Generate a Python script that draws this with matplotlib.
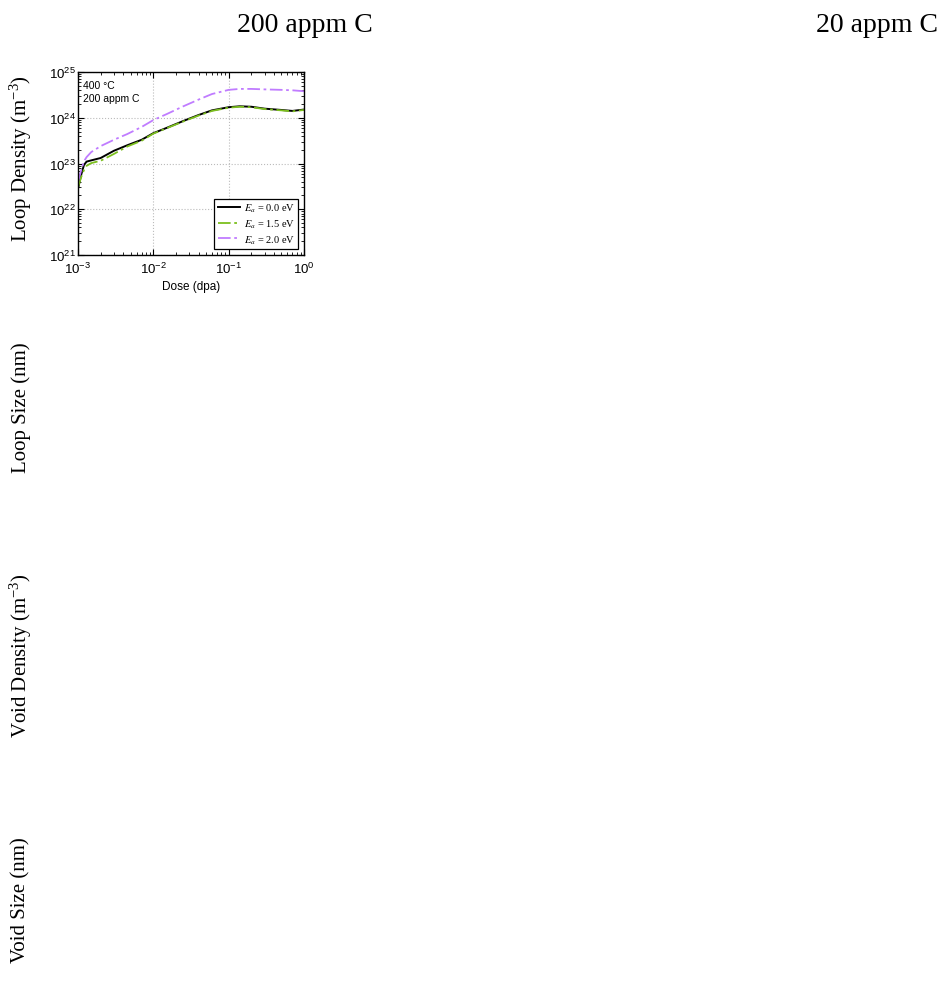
import matplotlib
matplotlib.use("Agg")
import matplotlib.pyplot as plt
from matplotlib.ticker import LogLocator

plt.rcParams["font.family"] = ["Liberation Sans", "DejaVu Sans"]
plt.rcParams["mathtext.fontset"] = "stix"
plt.rcParams["axes.unicode_minus"] = False

# loop number density vs dose, 400 C, 200 appm C
dose = [1.0e-3, 1.1e-3, 1.2e-3, 1.3e-3, 1.5e-3, 2e-3, 3e-3, 4.5e-3, 7e-3, 1e-2,
        1.5e-2, 2.5e-2, 4e-2, 6e-2, 1e-1, 1.4e-1, 2e-1, 3e-1, 5e-1, 7e-1, 1.0]
loop_ea00 = [2.8e22, 5.6e22, 9.3e22, 1.10e23, 1.17e23, 1.32e23, 1.9e23, 2.5e23, 3.3e23, 4.6e23,
             6.0e23, 8.5e23, 1.15e24, 1.45e24, 1.70e24, 1.78e24, 1.74e24, 1.58e24, 1.48e24, 1.41e24, 1.51e24]
loop_ea15 = [3.0e22, 5.0e22, 7.2e22, 8.9e22, 1.02e23, 1.15e23, 1.62e23, 2.35e23, 3.15e23, 4.5e23,
             5.9e23, 8.3e23, 1.12e24, 1.41e24, 1.66e24, 1.74e24, 1.70e24, 1.55e24, 1.45e24, 1.38e24, 1.48e24]
loop_ea20 = [4.0e22, 7.1e22, 1.12e23, 1.38e23, 1.78e23, 2.4e23, 3.3e23, 4.4e23, 6.3e23, 8.9e23,
             1.2e24, 1.78e24, 2.5e24, 3.3e24, 4.07e24, 4.27e24, 4.27e24, 4.17e24, 4.07e24, 3.98e24, 3.8e24]

col_titles = ["200 appm C", "20 appm C"]
row_labels = [r"Loop Density (m$\mathregular{^{-3}}$)", "Loop Size (nm)",
              r"Void Density (m$\mathregular{^{-3}}$)", "Void Size (nm)"]

W, H = 939, 987
fig = plt.figure(figsize=(W / 100, H / 100), dpi=100)

serif = ["Liberation Serif", "DejaVu Serif"]
for x, t in zip([305, 877], col_titles):
    fig.text(x / W, 1 - 26 / H, t, ha="center", va="center", fontsize=20, family=serif)
for y, t in zip([159, 408, 656, 900], row_labels):
    fig.text(21 / W, 1 - y / H, t, ha="center", va="center", rotation=90,
             fontsize=15, family=serif)

ax = fig.add_axes([78 / W, 1 - 256 / H, 226 / W, 183 / H])
ax.plot(dose, loop_ea00, color="black", lw=1.4, label=r"$E_a$ = 0.0 eV")
ax.plot(dose, loop_ea15, color="#7cbf1e", lw=1.3, ls=(0, (7, 2, 1.5, 2)), label=r"$E_a$ = 1.5 eV")
ax.plot(dose, loop_ea20, color="#c07cff", lw=1.3, ls=(0, (7, 2, 1.5, 2)), label=r"$E_a$ = 2.0 eV")

ax.set_xscale("log")
ax.set_yscale("log")
ax.set_xlim(1e-3, 1)
ax.set_ylim(1e21, 1e25)
ax.yaxis.set_major_locator(LogLocator(base=10, numticks=10))
ax.yaxis.set_minor_locator(LogLocator(base=10, subs=range(2, 10), numticks=20))
ax.set_xlabel("Dose (dpa)", fontsize=8.5, labelpad=3)
ax.tick_params(which="both", direction="in", top=True, right=True, labelsize=9.5)
ax.tick_params(axis="y", pad=1.5)
ax.tick_params(axis="x", pad=4)
ax.tick_params(which="major", length=4, width=0.8)
ax.tick_params(which="minor", length=2, width=0.6)
ax.grid(True, which="major", ls=":", color="#bbbbbb", lw=0.8)
for s in ax.spines.values():
    s.set_linewidth(1.0)

ax.text(0.02, 0.955, "400 \u00b0C\n200 appm C", transform=ax.transAxes,
        ha="left", va="top", fontsize=7.5, linespacing=1.35)

leg = ax.legend(loc="lower right", handlelength=2.2, fancybox=False,
                edgecolor="black", framealpha=1, borderaxespad=0.6,
                handletextpad=0.3, labelspacing=0.3, borderpad=0.3,
                prop={"family": serif, "size": 7.5})
leg.get_frame().set_linewidth(0.9)

fig.savefig("out.png", dpi=100)
